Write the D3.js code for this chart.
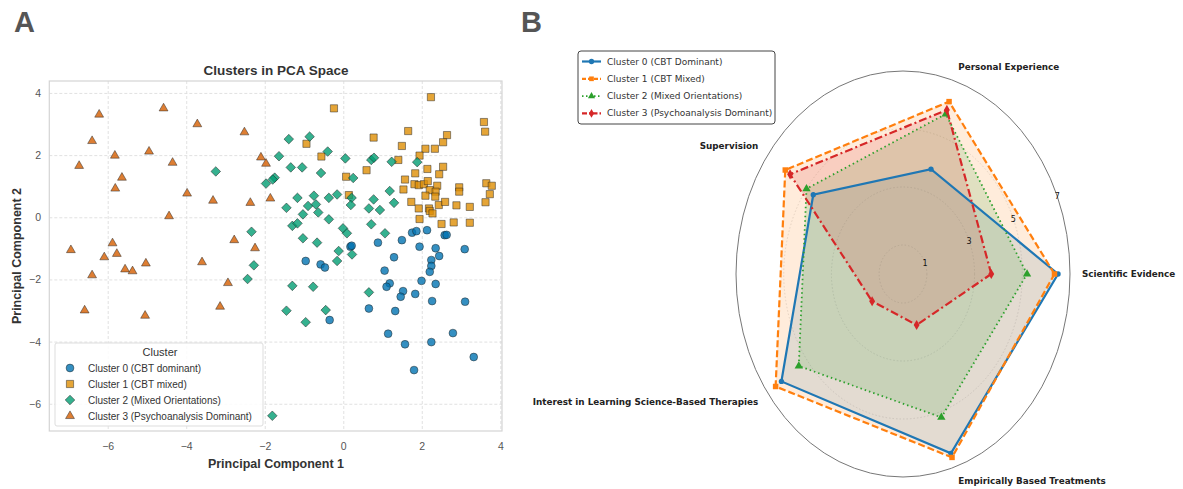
<!DOCTYPE html>
<html>
<head>
<meta charset="utf-8">
<script src="https://cdn.jsdelivr.net/npm/d3@7"></script>
<style>
  body { margin: 0; background: #fff; }
  svg { display: block; }
</style>
</head>
<body>
<svg id="fig" width="1183" height="489"></svg>
<script>
// ---------- Panel A data (PC1, PC2) ----------
var cluster0Points = [[1.74,-0.48],[1.85,-0.43],[2.12,-0.40],[2.57,-0.56],[2.62,-0.55],[1.48,-0.72],[0.87,-0.80],[0.17,-0.93],[0.20,-0.90],
  [1.93,-0.93],[2.34,-0.98],[3.08,-1.01],[1.28,-1.27],[2.43,-1.23],[2.23,-1.36],[2.23,-1.55],[2.19,-1.74],[-0.97,-1.39],
  [-0.59,-1.50],[-0.48,-1.60],[1.04,-1.70],[1.98,-2.03],[2.34,-2.13],[1.17,-2.11],[1.09,-2.22],[1.51,-2.36],[1.45,-2.54],
  [1.82,-2.45],[2.25,-2.68],[3.09,-2.70],[0.64,-2.92],[1.31,-3.00],[-0.36,-3.29],[1.13,-3.73],[2.78,-3.71],[1.56,-4.07],
  [2.23,-4.00],[3.31,-4.48],[1.79,-4.90]];
var cluster1Points = [[-0.25,3.52],[2.22,3.88],[3.57,3.08],[3.60,2.77],[1.64,2.79],[2.63,2.66],[0.76,2.58],[1.48,2.31],
  [2.53,2.43],[2.08,2.22],[2.32,2.22],[-0.95,2.38],[-0.57,1.97],[1.93,2.0],[1.39,1.86],[0.58,1.53],[2.13,1.57],[2.53,1.64],
  [1.82,1.43],[2.43,1.40],[0.06,1.32],[1.56,1.23],[1.80,1.08],[1.91,1.05],[2.04,1.08],[2.14,1.18],[2.38,1.03],[1.52,0.91],
  [2.19,0.89],[2.34,0.84],[2.08,0.71],[2.33,0.68],[2.94,0.98],[2.94,0.84],[3.63,1.11],[3.77,1.03],[3.72,0.76],[3.61,0.50],
  [0.13,0.73],[1.72,0.51],[1.91,0.30],[2.17,0.30],[2.19,0.22],[2.26,0.14],[2.42,0.41],[2.58,0.51],[2.87,0.40],[3.21,0.35],
  [1.93,-0.04],[2.49,-0.20],[2.80,-0.15],[3.21,-0.16]];
var cluster2Points = [[-3.26,1.49],[-1.98,1.10],[-2.35,-0.45],[-2.29,-1.53],[-2.45,-1.97],[-1.82,-6.37],
  [-1.40,2.53],[-0.87,2.61],[-1.65,1.98],[-0.41,2.13],[-1.35,1.62],[-1.06,1.62],[-0.58,1.44],[-1.76,1.29],[-1.81,1.23],
  [0.04,1.91],[0.24,1.28],[0.70,1.86],[0.77,1.93],[1.22,1.80],[1.87,1.79],[-1.18,0.64],[-0.76,0.71],[-0.38,0.64],
  [-0.17,0.75],[-1.46,0.32],[-0.91,0.38],[-0.71,0.43],[-0.65,0.17],[-1.04,0.11],[-0.38,-0.05],[-1.31,-0.26],[-1.18,-0.18],
  [0.20,0.64],[0.18,0.41],[0.76,0.59],[0.64,0.30],[0.92,0.25],[1.17,0.86],[1.28,0.48],[0.70,-0.21],[1.05,-0.50],
  [-1.04,-0.66],[-0.68,-0.80],[-0.02,-0.34],[0.08,-0.50],[-0.13,-1.07],[0.21,-1.18],[-0.17,-1.39],[-1.31,-2.19],
  [-0.78,-2.22],[0.64,-2.40],[-1.46,-2.99],[-0.46,-2.97],[-0.97,-3.36]];
var cluster3Points = [[-6.23,3.32],[-6.41,2.47],[-6.74,1.67],[-5.83,2.0],[-5.65,1.29],[-5.82,0.94],[-4.59,3.52],[-4.96,2.13],
  [-4.36,1.77],[-3.99,0.78],[-4.45,0.05],[-3.73,3.01],[-3.33,0.55],[-2.53,2.75],[-2.11,1.94],[-1.98,1.74],[-2.38,0.48],
  [-1.87,0.62],[-2.79,-0.72],[-2.26,-0.98],[-6.95,-1.04],[-5.89,-0.82],[-6.10,-1.27],[-5.78,-1.16],[-6.41,-1.85],
  [-5.57,-1.66],[-5.38,-1.72],[-5.04,-1.47],[-6.60,-2.98],[-5.06,-3.15],[-3.61,-1.43],[-2.95,-2.10],[-3.15,-2.86]];

var scatterNames = ["Cluster 0 (CBT dominant)", "Cluster 1 (CBT mixed)", "Cluster 2 (Mixed Orientations)", "Cluster 3 (Psychoanalysis Dominant)"];
var scatterColors = ["#0173b2", "#de8f05", "#029e73", "#d55e00"];
var scatterShapes = [d3.symbolCircle, d3.symbolSquare, d3.symbolSquare, d3.symbolTriangle];
var scatterRotate = [0, 0, 45, 0];
var scatterSizes = [48, 52, 46, 34];
var xTicks = [-6, -4, -2, 0, 2, 4];
var yTicks = [-6, -4, -2, 0, 2, 4];

// ---------- Panel B data ----------
var radarAxes = ["Scientific Evidence", "Personal Experience", "Supervision",
  "Interest in Learning Science-Based Therapies", "Empirically Based Treatments"];
var radarNames = ["Cluster 0 (CBT Dominant)", "Cluster 1 (CBT Mixed)", "Cluster 2 (Mixed Orientations)", "Cluster 3 (Psychoanalysis Dominant)"];
var radarCluster0 = [6.5, 3.8, 4.65, 6.3, 6.5];
var radarCluster1 = [6.35, 6.25, 6.1, 6.6, 6.65];
var radarCluster2 = [5.2, 5.8, 5.0, 5.4, 5.2];
var radarCluster3 = [3.7, 5.95, 5.85, 1.6, 1.85];
var radarColors = ["#1f77b4", "#ff7f0e", "#2ca02c", "#d62728"];
var radarDashes = [null, "7,3", "1.5,3", "8,3,2,3"];
var radarShapes = [d3.symbolCircle, d3.symbolSquare, d3.symbolTriangle, d3.symbolDiamond];
var radarTicks = [1, 3, 5, 7];

var svg = d3.select("#fig");

// =================== Panel A: scatter ===================
var x = d3.scaleLinear().domain([-7.5, 4.03]).range([49.3, 502]);
var y = d3.scaleLinear().domain([-6.86, 4.4]).range([431, 81]);
var fontA = "'Liberation Sans', Arial, sans-serif";

svg.append("text").attr("x", 14).attr("y", 32)
   .attr("font-family", fontA).attr("font-weight", "bold").attr("font-size", 29)
   .attr("fill", "#555").text("A");

var gA = svg.append("g");

// grid
gA.selectAll(".gx").data(xTicks).enter().append("line")
  .attr("x1", function(d) { return x(d); }).attr("x2", function(d) { return x(d); })
  .attr("y1", y.range()[1]).attr("y2", y.range()[0])
  .attr("stroke", "#dedede").attr("stroke-dasharray", "3,2").attr("stroke-width", 0.9);
gA.selectAll(".gy").data(yTicks).enter().append("line")
  .attr("y1", function(d) { return y(d); }).attr("y2", function(d) { return y(d); })
  .attr("x1", x.range()[0]).attr("x2", x.range()[1])
  .attr("stroke", "#dedede").attr("stroke-dasharray", "3,2").attr("stroke-width", 0.9);

gA.append("rect").attr("x", x.range()[0]).attr("y", y.range()[1])
  .attr("width", x.range()[1] - x.range()[0]).attr("height", y.range()[0] - y.range()[1])
  .attr("fill", "none").attr("stroke", "#d4d4d4").attr("stroke-width", 1.2);

// tick labels
gA.selectAll(".tx").data(xTicks).enter().append("text")
  .attr("x", function(d) { return x(d); }).attr("y", 450)
  .attr("text-anchor", "middle").attr("font-family", fontA).attr("font-size", 10.5).attr("fill", "#555")
  .text(function(d) { return d3.format("")(d).replace("-", "\u2212"); });
gA.selectAll(".ty").data(yTicks).enter().append("text")
  .attr("x", 41).attr("y", function(d) { return y(d) + 3.5; })
  .attr("text-anchor", "end").attr("font-family", fontA).attr("font-size", 10.5).attr("fill", "#555")
  .text(function(d) { return d3.format("")(d).replace("-", "\u2212"); });

gA.append("text").attr("x", 276).attr("y", 75).attr("text-anchor", "middle")
  .attr("font-family", fontA).attr("font-weight", "bold").attr("font-size", 13.5).attr("fill", "#333")
  .text("Clusters in PCA Space");
gA.append("text").attr("x", 276).attr("y", 468).attr("text-anchor", "middle")
  .attr("font-family", fontA).attr("font-weight", "bold").attr("font-size", 12.5).attr("fill", "#333")
  .text("Principal Component 1");
gA.append("text").attr("transform", "translate(21,256) rotate(-90)").attr("text-anchor", "middle")
  .attr("font-family", fontA).attr("font-weight", "bold").attr("font-size", 12.5).attr("fill", "#333")
  .text("Principal Component 2");

// points
var allClusters = [cluster0Points, cluster1Points, cluster2Points, cluster3Points];
allClusters.forEach(function(pts, i) {
  var sym = d3.symbol().type(scatterShapes[i]).size(scatterSizes[i]);
  gA.append("g").selectAll("path").data(pts).enter().append("path")
    .attr("d", sym)
    .attr("transform", function(d) {
      return "translate(" + x(d[0]) + "," + y(d[1]) + ") rotate(" + scatterRotate[i] + ")";
    })
    .attr("fill", scatterColors[i]).attr("fill-opacity", 0.8)
    .attr("stroke", "#222").attr("stroke-opacity", 0.8).attr("stroke-width", 0.6);
});

// legend A
var legA = gA.append("g").attr("transform", "translate(55,343)");
legA.append("rect").attr("width", 208).attr("height", 83).attr("rx", 2)
  .attr("fill", "#fff").attr("fill-opacity", 0.85).attr("stroke", "#ddd");
legA.append("text").attr("x", 105).attr("y", 13).attr("text-anchor", "middle")
  .attr("font-family", fontA).attr("font-size", 11).attr("fill", "#333").text("Cluster");
scatterNames.forEach(function(name, i) {
  var row = legA.append("g").attr("transform", "translate(0," + (25 + i * 16) + ")");
  row.append("path").attr("d", d3.symbol().type(scatterShapes[i]).size(scatterSizes[i])())
    .attr("transform", "translate(15,0) rotate(" + scatterRotate[i] + ")")
    .attr("fill", scatterColors[i]).attr("fill-opacity", 0.8)
    .attr("stroke", "#222").attr("stroke-opacity", 0.8).attr("stroke-width", 0.6);
  row.append("text").attr("x", 33).attr("y", 3.5)
    .attr("font-family", fontA).attr("font-size", 10).attr("fill", "#333").text(name);
});

// =================== Panel B: radar ===================
var fontB = "'DejaVu Sans', sans-serif";
svg.append("text").attr("x", 521).attr("y", 32)
   .attr("font-family", fontA).attr("font-weight", "bold").attr("font-size", 29)
   .attr("fill", "#555").text("B");

var cx = 903, cy = 274, rxMax = 167, ryMax = 203;
var r = d3.scaleLinear().domain([0, 7]).range([0, 1]);
var angle = d3.scaleLinear().domain([0, radarAxes.length]).range([0, 2 * Math.PI]);

function px(v, i) { return cx + r(v) * rxMax * Math.cos(angle(i)); }
function py(v, i) { return cy - r(v) * ryMax * Math.sin(angle(i)); }

var gB = svg.append("g");

// grid rings
radarTicks.forEach(function(t) {
  gB.append("ellipse").attr("cx", cx).attr("cy", cy)
    .attr("rx", r(t) * rxMax).attr("ry", r(t) * ryMax)
    .attr("fill", "none")
    .attr("stroke", t === 7 ? "#777" : "#ddd")
    .attr("stroke-width", t === 7 ? 1 : 0.9)
    .attr("stroke-dasharray", t === 7 ? null : "1.5,2");
});

var radarData = [radarCluster0, radarCluster1, radarCluster2, radarCluster3];
var lineB = d3.line().curve(d3.curveLinearClosed)
  .x(function(d, i) { return px(d, i); })
  .y(function(d, i) { return py(d, i); });

radarData.forEach(function(vals, k) {
  gB.append("path").attr("d", lineB(vals))
    .attr("fill", radarColors[k]).attr("fill-opacity", 0.15).attr("stroke", "none");
});
radarData.forEach(function(vals, k) {
  gB.append("path").attr("d", lineB(vals))
    .attr("fill", "none").attr("stroke", radarColors[k])
    .attr("stroke-width", k === 2 ? 1.8 : 2.2)
    .attr("stroke-dasharray", radarDashes[k]);
  gB.append("g").selectAll("path").data(vals).enter().append("path")
    .attr("d", d3.symbol().type(radarShapes[k]).size(k === 0 ? 22 : 30))
    .attr("transform", function(d, i) { return "translate(" + px(d, i) + "," + py(d, i) + ")"; })
    .attr("fill", radarColors[k]);
});

// radial tick labels
var tickAngle = 22.5 * Math.PI / 180;
radarTicks.forEach(function(t) {
  gB.append("text")
    .attr("x", cx + r(t) * rxMax * Math.cos(tickAngle))
    .attr("y", cy - r(t) * ryMax * Math.sin(tickAngle) + 3)
    .attr("text-anchor", "middle").attr("font-family", fontB).attr("font-size", 8)
    .attr("fill", "#111").text(t);
});

// axis labels
radarAxes.forEach(function(name, i) {
  var c = Math.cos(angle(i));
  gB.append("text")
    .attr("x", px(7.5, i)).attr("y", py(7.5, i) + 3)
    .attr("text-anchor", c >= 0 ? "start" : "end")
    .attr("font-family", fontB).attr("font-weight", "bold").attr("font-size", 8.8)
    .attr("fill", "#222").text(name);
});

// legend B
var legB = gB.append("g").attr("transform", "translate(578,51)");
legB.append("rect").attr("width", 197).attr("height", 73).attr("rx", 3)
  .attr("fill", "#fff").attr("stroke", "#444").attr("stroke-width", 1);
radarNames.forEach(function(name, k) {
  var row = legB.append("g").attr("transform", "translate(0," + (10.5 + k * 17.3) + ")");
  row.append("line").attr("x1", 4).attr("x2", 23)
    .attr("stroke", radarColors[k]).attr("stroke-width", k === 2 ? 1.8 : 2.2)
    .attr("stroke-dasharray", k === 1 ? "4,2" : (k === 2 ? "1.5,2.5" : (k === 3 ? "5,2,1.5,2" : null)));
  row.append("path").attr("d", d3.symbol().type(radarShapes[k]).size(22)())
    .attr("transform", "translate(13.5,0)").attr("fill", radarColors[k]);
  row.append("text").attr("x", 29).attr("y", 3)
    .attr("font-family", fontB).attr("font-size", 9).attr("fill", "#333").text(name);
});
</script>
</body>
</html>
